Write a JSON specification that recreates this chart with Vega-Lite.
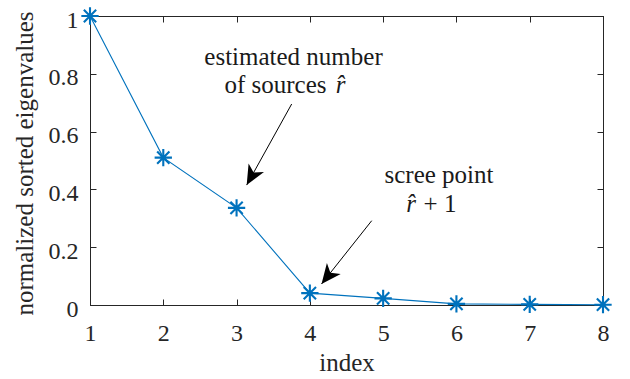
{
  "$schema": "https://vega.github.io/schema/vega-lite/v6.json",
  "width": 513,
  "height": 289,
  "autosize": {"type": "none"},
  "padding": {"left": 90, "top": 16, "right": 27, "bottom": 74},
  "background": "white",
  "config": {
    "view": {"stroke": "#262626", "strokeWidth": 1},
    "font": "'Liberation Serif', serif",
    "axis": {
      "grid": false,
      "domainColor": "#262626",
      "domainWidth": 1,
      "tickColor": "#262626",
      "tickWidth": 1,
      "tickSize": -6,
      "labelColor": "#262626",
      "titleColor": "#262626",
      "labelFont": "'Liberation Serif', serif",
      "titleFont": "'Liberation Serif', serif",
      "titleFontWeight": "normal",
      "labelFontSize": 24,
      "titleFontSize": 25,
      "labelFlush": false
    }
  },
  "datasets": {
    "eig": [
      {"index": 1, "value": 1.0},
      {"index": 2, "value": 0.51},
      {"index": 3, "value": 0.336},
      {"index": 4, "value": 0.041},
      {"index": 5, "value": 0.023},
      {"index": 6, "value": 0.004},
      {"index": 7, "value": 0.002},
      {"index": 8, "value": 0.001}
    ],
    "notes": [
      {"x": 3.777, "y": 0.83, "label": "estimated number"},
      {"x": 3.531, "y": 0.734, "label": "of sources"},
      {"x": 5.762, "y": 0.422, "label": "scree point"},
      {"x": 5.776, "y": 0.322, "label": "+ 1"}
    ],
    "math": [
      {"x": 4.42, "y": 0.734, "label": "r̂"},
      {"x": 5.38, "y": 0.322, "label": "r̂"}
    ],
    "arrows": [
      {"id": "a", "x": 3.752, "y": 0.6955, "x2": 3.138, "y2": 0.415},
      {"id": "b", "x": 4.844, "y": 0.2917, "x2": 4.159, "y2": 0.0727}
    ]
  },
  "layer": [
    {
      "data": {"name": "eig"},
      "mark": {"type": "line", "color": "#0072BD", "strokeWidth": 1.1},
      "encoding": {
        "x": {
          "field": "index", "type": "quantitative",
          "scale": {"domain": [1, 8], "nice": false, "zero": false},
          "axis": {"orient": "bottom", "values": [1, 2, 3, 4, 5, 6, 7, 8], "format": "d", "labelPadding": 41, "labelBaseline": "alphabetic", "labelFlush": false, "title": "index", "titleX": 256.5, "titleY": 65, "titleBaseline": "alphabetic", "titleAlign": "center"}
        },
        "y": {
          "field": "value", "type": "quantitative",
          "scale": {"domain": [0, 1], "nice": false, "zero": false},
          "axis": {"orient": "left", "values": [0, 0.2, 0.4, 0.6, 0.8, 1], "format": "~g", "labelPadding": 18, "labelBaseline": "alphabetic", "labelOffset": 11, "labelFlush": false, "title": "normalized sorted eigenvalues", "titleX": -58, "titleY": 147, "titleAngle": -90, "titleBaseline": "alphabetic", "titleAlign": "center"}
        }
      }
    },
    {
      "data": {"name": "eig"},
      "mark": {"type": "point", "opacity": 0},
      "encoding": {
        "x": {
          "field": "index", "type": "quantitative",
          "scale": {"domain": [1, 8], "nice": false, "zero": false},
          "axis": {"orient": "top", "values": [1, 2, 3, 4, 5, 6, 7, 8], "labels": false, "title": null}
        },
        "y": {
          "field": "value", "type": "quantitative",
          "scale": {"domain": [0, 1], "nice": false, "zero": false},
          "axis": {"orient": "right", "values": [0, 0.2, 0.4, 0.6, 0.8, 1], "labels": false, "title": null}
        }
      }
    },
    {
      "data": {"name": "eig"},
      "mark": {"type": "point", "shape": "M-1,0L1,0M0,-1L0,1M-0.71,-0.71L0.71,0.71M-0.71,0.71L0.71,-0.71", "filled": false, "stroke": "#0072BD", "strokeWidth": 2.1, "size": 300, "opacity": 1},
      "encoding": {
        "x": {"field": "index", "type": "quantitative", "scale": {"domain": [1, 8], "nice": false, "zero": false}, "axis": null},
        "y": {"field": "value", "type": "quantitative", "scale": {"domain": [0, 1], "nice": false, "zero": false}, "axis": null}
      }
    },
    {
      "data": {"name": "arrows"},
      "mark": {"type": "rule", "color": "black", "strokeWidth": 1},
      "encoding": {
        "x": {"field": "x", "type": "quantitative", "scale": {"domain": [1, 8], "nice": false, "zero": false}, "axis": null},
        "y": {"field": "y", "type": "quantitative", "scale": {"domain": [0, 1], "nice": false, "zero": false}, "axis": null},
        "x2": {"field": "x2"},
        "y2": {"field": "y2"}
      }
    },
    {
      "data": {"name": "arrows"},
      "transform": [{"filter": "datum.id == 'a'"}],
      "mark": {"type": "point", "shape": "M0,0L0.8,1.8L0,1.3L-0.8,1.8Z", "filled": true, "fill": "black", "strokeWidth": 0, "size": 484, "angle": 209, "opacity": 1},
      "encoding": {
        "x": {"field": "x2", "type": "quantitative", "scale": {"domain": [1, 8], "nice": false, "zero": false}, "axis": null},
        "y": {"field": "y2", "type": "quantitative", "scale": {"domain": [0, 1], "nice": false, "zero": false}, "axis": null}
      }
    },
    {
      "data": {"name": "arrows"},
      "transform": [{"filter": "datum.id == 'b'"}],
      "mark": {"type": "point", "shape": "M0,0L0.8,1.8L0,1.3L-0.8,1.8Z", "filled": true, "fill": "black", "strokeWidth": 0, "size": 484, "angle": 218.4, "opacity": 1},
      "encoding": {
        "x": {"field": "x2", "type": "quantitative", "scale": {"domain": [1, 8], "nice": false, "zero": false}, "axis": null},
        "y": {"field": "y2", "type": "quantitative", "scale": {"domain": [0, 1], "nice": false, "zero": false}, "axis": null}
      }
    },
    {
      "data": {"name": "notes"},
      "mark": {"type": "text", "font": "'Liberation Serif', serif", "fontSize": 25, "color": "#1a1a1a", "align": "center", "baseline": "alphabetic"},
      "encoding": {
        "x": {"field": "x", "type": "quantitative", "scale": {"domain": [1, 8], "nice": false, "zero": false}, "axis": null},
        "y": {"field": "y", "type": "quantitative", "scale": {"domain": [0, 1], "nice": false, "zero": false}, "axis": null},
        "text": {"field": "label"}
      }
    },
    {
      "data": {"name": "math"},
      "mark": {"type": "text", "font": "'Liberation Serif', serif", "fontSize": 25, "fontStyle": "italic", "color": "#1a1a1a", "align": "center", "baseline": "alphabetic"},
      "encoding": {
        "x": {"field": "x", "type": "quantitative", "scale": {"domain": [1, 8], "nice": false, "zero": false}, "axis": null},
        "y": {"field": "y", "type": "quantitative", "scale": {"domain": [0, 1], "nice": false, "zero": false}, "axis": null},
        "text": {"field": "label"}
      }
    }
  ],
  "resolve": {"axis": {"x": "independent", "y": "independent"}}
}
